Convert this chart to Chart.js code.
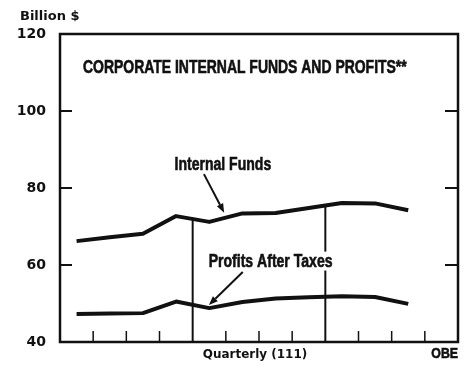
<!DOCTYPE html>
<html>
<head>
<meta charset="utf-8">
<script src="https://cdn.jsdelivr.net/npm/chart.js@4"></script>
<style>
  html, body { margin: 0; padding: 0; background: #fff; }
</style>
</head>
<body>
<canvas id="grafico" width="471" height="372"></canvas>
<script>
// quarters shown (3 years, last quarter of the third year still open)
const quarterLabels = ['I', 'II', 'III', 'IV', 'I', 'II', 'III', 'IV', 'I', 'II', 'III'];
const internalFunds = [66.2, 67.2, 68.1, 72.7, 71.2, 73.4, 73.5, 74.8, 76.1, 76.0, 74.2];
const profitsAfterTaxes = [47.3, 47.4, 47.5, 50.5, 48.8, 50.4, 51.3, 51.6, 51.9, 51.7, 49.9];
const yTicks = [40, 60, 80, 100, 120];
const quarterSlots = 12;
const yearBreaks = [4, 8];

const INK = '#111';
const ROUND = "'DejaVu Sans', sans-serif";
const NARROW = "'Liberation Sans', Arial, sans-serif";

// labels with arrows, placed in chart units (quarter, billion $)
const notes = [
  { text: 'Internal Funds', x: 4.91, y: 84.7, from: [4.34, 83.6], to: [4.95, 73.6] },
  { text: 'Profits After Taxes', x: 6.35, y: 59.5, from: [5.51, 58.2], to: [4.49, 49.6] }
];

function toPoints(values) {
  return values.map((v, i) => ({ x: i + 0.5, y: v }));
}

// value of a series at any position between two quarter midpoints
function valueAt(values, q) {
  const i = Math.min(Math.max(Math.floor(q - 0.5), 0), values.length - 2);
  const t = q - (i + 0.5);
  return values[i] + (values[i + 1] - values[i]) * t;
}

function narrowText(ctx, text, x, y, size, align, squeeze, clearBack) {
  ctx.save();
  ctx.font = 'bold ' + size + 'px ' + NARROW;
  ctx.translate(x, y);
  ctx.scale(squeeze, 1);
  ctx.textAlign = align;
  ctx.textBaseline = 'alphabetic';
  if (clearBack) {
    const w = ctx.measureText(text).width;
    ctx.fillStyle = '#fff';
    ctx.fillRect(-w / 2 - 3, -size * 0.85, w + 6, size * 1.05);
  }
  ctx.fillStyle = INK;
  ctx.strokeStyle = INK;
  ctx.lineWidth = 0.6;
  ctx.fillText(text, 0, 0);
  ctx.strokeText(text, 0, 0);
  ctx.restore();
}

function roundText(ctx, text, x, y, size, align, squeeze) {
  ctx.save();
  ctx.font = 'bold ' + size + 'px ' + ROUND;
  ctx.translate(x, y);
  ctx.scale(squeeze, 1);
  ctx.textAlign = align;
  ctx.textBaseline = 'alphabetic';
  ctx.fillStyle = INK;
  ctx.fillText(text, 0, 0);
  ctx.restore();
}

function arrow(ctx, x1, y1, x2, y2) {
  const ang = Math.atan2(y2 - y1, x2 - x1);
  const len = 9, half = 3.5;
  const bx = x2 - Math.cos(ang) * len, by = y2 - Math.sin(ang) * len;
  ctx.beginPath();
  ctx.moveTo(x1, y1);
  ctx.lineTo(bx, by);
  ctx.lineWidth = 2;
  ctx.stroke();
  ctx.beginPath();
  ctx.moveTo(x2, y2);
  ctx.lineTo(bx - Math.sin(ang) * half, by + Math.cos(ang) * half);
  ctx.lineTo(bx + Math.sin(ang) * half, by - Math.cos(ang) * half);
  ctx.closePath();
  ctx.fill();
}

const decoration = {
  id: 'decoration',
  beforeDatasetsDraw(chart) {
    const { ctx, chartArea: a, scales: { x, y } } = chart;
    ctx.save();
    ctx.strokeStyle = INK;

    // year dividers, from the Internal Funds line down to the axis
    ctx.lineWidth = 2;
    yearBreaks.forEach(q => {
      const px = x.getPixelForValue(q);
      ctx.beginPath();
      ctx.moveTo(px, y.getPixelForValue(valueAt(internalFunds, q)));
      ctx.lineTo(px, a.bottom);
      ctx.stroke();
    });

    // quarter ticks along the bottom
    ctx.lineWidth = 1.5;
    for (let q = 1; q < quarterSlots; q++) {
      if (yearBreaks.includes(q)) continue;
      const px = x.getPixelForValue(q);
      ctx.beginPath();
      ctx.moveTo(px, a.bottom);
      ctx.lineTo(px, a.bottom - 11);
      ctx.stroke();
    }

    // inner ticks on both sides
    ctx.lineWidth = 2;
    yTicks.slice(1, -1).forEach(v => {
      const py = y.getPixelForValue(v);
      ctx.beginPath();
      ctx.moveTo(a.left, py);
      ctx.lineTo(a.left + 12, py);
      ctx.moveTo(a.right, py);
      ctx.lineTo(a.right - 13, py);
      ctx.stroke();
    });

    ctx.lineWidth = 2.5;
    ctx.strokeRect(a.left, a.top, a.right - a.left, a.bottom - a.top);
    ctx.restore();
  },
  afterDatasetsDraw(chart) {
    const { ctx, chartArea: a, scales: { x, y } } = chart;
    ctx.save();
    ctx.strokeStyle = INK;
    ctx.fillStyle = INK;

    narrowText(ctx, 'CORPORATE INTERNAL FUNDS AND PROFITS**', a.left + 23, a.top + 39, 18, 'left', 0.775, false);

    notes.forEach(n => {
      narrowText(ctx, n.text, x.getPixelForValue(n.x), y.getPixelForValue(n.y), 18, 'center', 0.78, true);
      arrow(ctx,
        x.getPixelForValue(n.from[0]), y.getPixelForValue(n.from[1]),
        x.getPixelForValue(n.to[0]), y.getPixelForValue(n.to[1]));
    });

    roundText(ctx, 'Billion $', 20, 20, 13, 'left', 1);
    roundText(ctx, 'Quarterly (111)', (a.left + a.right) / 2 - 4, a.bottom + 16, 13, 'center', 0.92);
    narrowText(ctx, 'OBE', a.right, a.bottom + 16, 15, 'right', 0.82, false);
    ctx.restore();
  }
};

const ctx = document.getElementById('grafico').getContext('2d');

new Chart(ctx, {
  type: 'line',
  data: {
    labels: quarterLabels,
    datasets: [
      {
        label: 'Internal Funds',
        data: toPoints(internalFunds),
        borderColor: INK,
        borderWidth: 4,
        pointRadius: 0,
        tension: 0,
        borderJoinStyle: 'round'
      },
      {
        label: 'Profits After Taxes',
        data: toPoints(profitsAfterTaxes),
        borderColor: INK,
        borderWidth: 4,
        pointRadius: 0,
        tension: 0,
        borderJoinStyle: 'round'
      }
    ]
  },
  options: {
    responsive: false,
    animation: false,
    devicePixelRatio: 1,
    layout: { padding: { top: 34, right: 13, bottom: 30, left: 0 } },
    plugins: { legend: { display: false }, tooltip: { enabled: false } },
    scales: {
      x: { type: 'linear', min: 0, max: quarterSlots, display: false },
      y: {
        min: 40,
        max: 120,
        afterBuildTicks: s => { s.ticks = yTicks.map(v => ({ value: v })); },
        afterFit: s => { s.width = 60; },
        grid: { display: false, drawTicks: false },
        border: { display: false },
        ticks: {
          color: INK,
          padding: 14,
          font: { family: ROUND, weight: 'bold', size: 14 }
        }
      }
    }
  },
  plugins: [decoration]
});
</script>
</body>
</html>
